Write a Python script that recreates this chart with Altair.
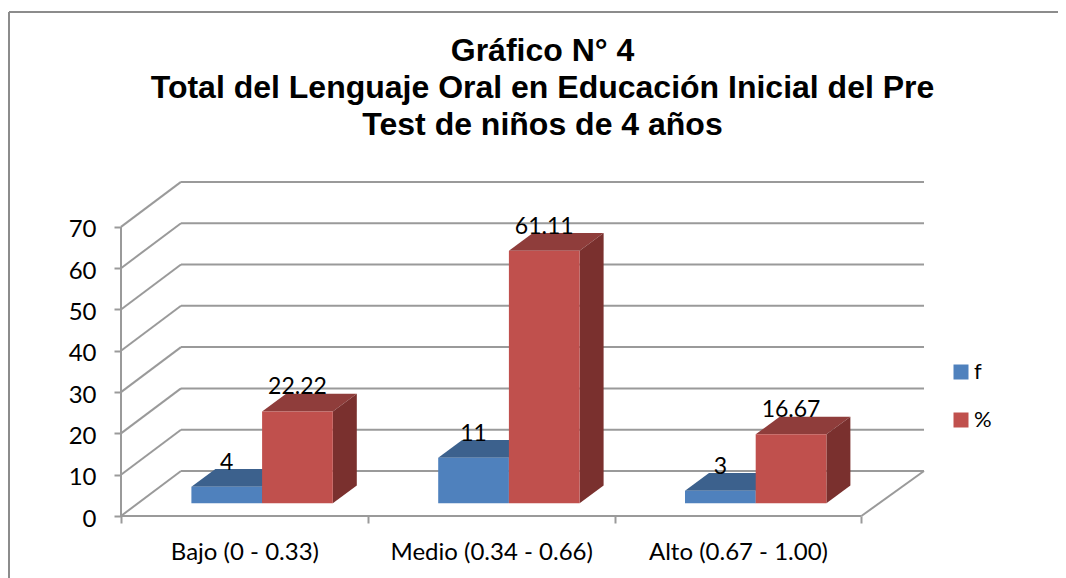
import json
import altair as alt
import pandas as pd

categories = ["Bajo (0 - 0.33)", "Medio (0.34 - 0.66)", "Alto (0.67 - 1.00)"]
f_values = [4, 11, 3]
pct_values = [22.22, 61.11, 16.67]
pct_labels = ["22.22", "61.11", "16.67"]
series = ["f", "%"]
y_ticks = [0, 10, 20, 30, 40, 50, 60, 70]
title_lines = ["Gráfico N° 4",
               "Total del Lenguaje Oral en Educación Inicial del Pre",
               "Test de niños de 4 años"]

W, H = 803, 334
PX_Y = 4.13           # pixels per value unit
PX_X = 246.8          # pixels per category slot
X_MAX = W / PX_X
Y_MAX = H / PX_Y
ux = lambda px: px / PX_X
uy = lambda px: px / PX_Y

WALL_DX, WALL_DY = ux(60), uy(45)
WALL_END = ux(803)
BAR_W = ux(70.7)
BAR_DX, BAR_DY = ux(24), uy(17.7)
BASE_DX, BASE_Y = ux(17.7), uy(12.8)

GRID = "#9a9a9a"
FRONT = {"f": "#4F81BD", "%": "#C0504D"}
TOP = {"f": "#3C618D", "%": "#8F3D3B"}
SIDE = {"f": "#335478", "%": "#7A302E"}

# wall and floor lines
lines = []
for v in y_ticks:
    lines.append(dict(x=0, x2=WALL_DX, y=v, y2=v + WALL_DY))
    lines.append(dict(x=WALL_DX, x2=WALL_END, y=v + WALL_DY, y2=v + WALL_DY))
lines.append(dict(x=0, x2=0, y=0, y2=70))
lines.append(dict(x=0, x2=3, y=0, y2=0))
lines.append(dict(x=3, x2=WALL_END, y=0, y2=WALL_DY))
lines_df = pd.DataFrame(lines)

# bars
front, tops, sides, labels = [], [], [], []
for s, vals, texts in (("f", f_values, [str(v) for v in f_values]),
                       ("%", pct_values, pct_labels)):
    for i, v in enumerate(vals):
        center = i + 0.5 + BASE_DX
        x0 = center - BAR_W if s == "f" else center
        x1 = x0 + BAR_W
        y0, y1 = BASE_Y, BASE_Y + v
        key = f"{s}{i}"
        front.append(dict(series=s, x=x0, x2=x1, y=y0, y2=y1))
        tops += [dict(series=s, bar=key, y=y1, x=x0, x2=x1),
                 dict(series=s, bar=key, y=y1 + BAR_DY, x=x0 + BAR_DX, x2=x1 + BAR_DX)]
        sides += [dict(series=s, bar=key, x=x1, y=y0, y2=y1),
                  dict(series=s, bar=key, x=x1 + BAR_DX, y=y0 + BAR_DY, y2=y1 + BAR_DY)]
        labels.append(dict(x=(x0 + x1) / 2, y=y1, text=texts[i]))

front_df, tops_df, sides_df = pd.DataFrame(front), pd.DataFrame(tops), pd.DataFrame(sides)
labels_df = pd.DataFrame(labels)

xs = alt.Scale(domain=[0, X_MAX], nice=False, zero=False)
ys = alt.Scale(domain=[0, Y_MAX], nice=False, zero=False)
FONT = "Lato"

x_axis = alt.Axis(
    values=[0, 0.5, 1, 1.5, 2, 2.5, 3], title=None, domain=False, grid=False,
    labelExpr=f"datum.value % 1 == 0 ? '' : {json.dumps(categories)}[floor(datum.value)]",
    labelFont=FONT, labelFontSize=24, labelColor="#000000", labelPadding=17,
    labelOverlap=False, labelBound=False, labelFlush=False, labelLimit=400,
    tickColor=GRID, tickWidth=2, tickSize=7,
    tickOpacity={"condition": {"test": "datum.value % 1 == 0", "value": 1}, "value": 0},
)
y_axis = alt.Axis(
    values=y_ticks, title=None, domain=False, grid=False,
    labelFont=FONT, labelFontSize=24, labelColor="#000000", labelPadding=18, labelOffset=3,
    tickColor=GRID, tickWidth=2, tickSize=7, labelOverlap=False, labelBound=False,
)

X = lambda: alt.X("x:Q", scale=xs, axis=x_axis)
Y = lambda: alt.Y("y:Q", scale=ys, axis=y_axis)

walls = alt.Chart(lines_df).mark_rule(color=GRID, strokeWidth=2).encode(
    x=X(), x2="x2:Q", y=Y(), y2="y2:Q")

def faces(s):
    t = alt.Chart(tops_df[tops_df.series == s]).mark_area(
        orient="horizontal", color=TOP[s], line=False).encode(
        y=Y(), x=X(), x2="x2:Q", detail="bar:N")
    d = alt.Chart(sides_df[sides_df.series == s]).mark_area(
        orient="vertical", color=SIDE[s], line=False).encode(
        x=X(), y=Y(), y2="y2:Q", detail="bar:N")
    return [t, d]

def front_face(s):
    return alt.Chart(front_df[front_df.series == s]).mark_rect().encode(
        x=X(), x2="x2:Q", y=Y(), y2="y2:Q",
        color=alt.Color("series:N",
                        scale=alt.Scale(domain=series, range=[FRONT[k] for k in series]),
                        legend=alt.Legend(title=None, orient="none", legendX=829, legendY=179,
                                          symbolType="square", symbolSize=225, symbolStrokeWidth=0,
                                          symbolOpacity=1, rowPadding=26, padding=0,
                                          labelFont=FONT, labelFontSize=22, labelColor="#000000",
                                          labelOffset=2)))

texts = alt.Chart(labels_df).mark_text(
    font=FONT, fontSize=23, color="#000000", baseline="middle", align="center", dy=-24).encode(
    x=X(), y=Y(), text="text:N")

border_left = alt.Chart(pd.DataFrame({"k": [0]})).mark_rule(color="#8c8c8c", strokeWidth=2).encode(
    x=alt.value(-112), y=alt.value(-170), y2=alt.value(H + 80))
border_top = alt.Chart(pd.DataFrame({"k": [0]})).mark_rule(color="#8c8c8c", strokeWidth=2).encode(
    x=alt.value(-112), x2=alt.value(W + 170), y=alt.value(-170))

layers = [border_left, border_top, walls] + faces("f") + [front_face("f")] + faces("%") + [front_face("%"), texts]

chart = alt.layer(*layers).properties(
    width=W, height=H,
    title=alt.Title(text=title_lines, anchor="middle", dx=20, offset=0, dy=131,
                    font="Liberation Sans", fontSize=32, fontWeight="bold",
                    color="#000000", lineHeight=37),
    autosize=alt.AutoSizeParams(type="none"),
    padding={"left": 113, "top": 174, "right": 1050 - 113 - W, "bottom": 570 - 174 - H},
).configure_view(stroke=None)

chart.save("out.html", embed_options={"renderer": "svg", "actions": False})
